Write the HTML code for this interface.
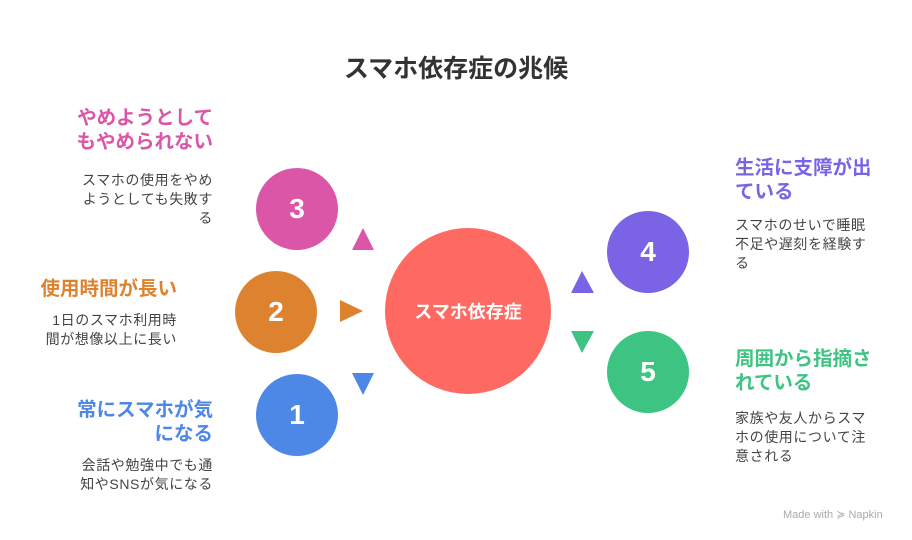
<!DOCTYPE html>
<html><head><meta charset="utf-8"><style>
body{margin:0;width:912px;height:540px;background:#fff;position:relative;overflow:hidden;font-family:"Liberation Sans","Noto Sans CJK JP",sans-serif}
.a{position:absolute}
.c{position:absolute;border-radius:50%;color:#fff;font-weight:bold;display:flex;align-items:center;justify-content:center}
.h{position:absolute;font-weight:bold;font-size:19.5px;line-height:24px}
.d{position:absolute;font-size:14px;letter-spacing:0.6px;line-height:19px;color:#444}
.r{text-align:right}
</style></head><body>
<div class="a" style="left:0;width:912px;top:49px;text-align:center;font-size:25px;font-weight:bold;color:#333">スマホ依存症の兆候</div>

<div class="c" style="left:385px;top:228px;width:166px;height:166px;background:#fe6a62;font-size:18px">スマホ依存症</div>
<div class="c" style="left:256px;top:168px;width:82px;height:82px;background:#dc56a8;font-size:28px">3</div>
<div class="c" style="left:235px;top:271px;width:82px;height:82px;background:#dd8330;font-size:28px">2</div>
<div class="c" style="left:256px;top:374px;width:82px;height:82px;background:#4d88e6;font-size:28px">1</div>
<div class="c" style="left:607px;top:211px;width:82px;height:82px;background:#7b63e6;font-size:28px">4</div>
<div class="c" style="left:607px;top:331px;width:82px;height:82px;background:#3ec482;font-size:28px">5</div>

<svg class="a" style="left:0;top:0" width="912" height="540">
<polygon points="363,228 374,250 352,250" fill="#dc56a8"/>
<polygon points="340,300 363,311 340,322" fill="#dd8330"/>
<polygon points="352,373 374,373 363,395" fill="#4d88e6"/>
<polygon points="582,271 594,293 571,293" fill="#7b63e6"/>
<polygon points="571,331 594,331 582,353" fill="#3ec482"/>
</svg>

<div class="h r" style="right:699px;top:106px;color:#dc56a8">やめようとして<br>もやめられない</div>
<div class="d r" style="right:699px;top:171px">スマホの使用をやめ<br>ようとしても失敗す<br>る</div>
<div class="h r" style="right:735px;top:277px;color:#dd8330">使用時間が長い</div>
<div class="d r" style="right:735px;top:311px">1日のスマホ利用時<br>間が想像以上に長い</div>
<div class="h r" style="right:699px;top:398px;color:#4d88e6">常にスマホが気<br>になる</div>
<div class="d r" style="right:699px;top:456px">会話や勉強中でも通<br>知やSNSが気になる</div>

<div class="h" style="left:735px;top:156px;color:#7b63e6">生活に支障が出<br>ている</div>
<div class="d" style="left:735px;top:216px">スマホのせいで睡眠<br>不足や遅刻を経験す<br>る</div>
<div class="h" style="left:735px;top:347px;color:#3ec482">周囲から指摘さ<br>れている</div>
<div class="d" style="left:735px;top:409px">家族や友人からスマ<br>ホの使用について注<br>意される</div>

<div class="a" style="left:783px;top:508px;font-size:11px;color:#aaa">Made with ≽ Napkin</div>
</body></html>
